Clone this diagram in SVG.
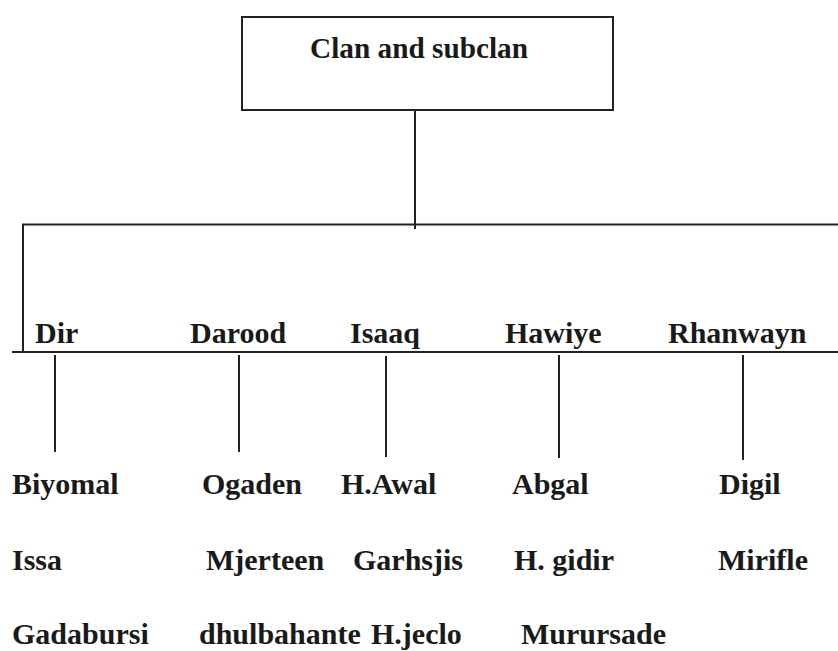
<svg xmlns="http://www.w3.org/2000/svg" width="838" height="651" viewBox="0 0 838 651">
<style>
.ln{stroke:#222;stroke-width:2;fill:none}
.t{font-family:'Liberation Serif','Times New Roman',serif;font-weight:bold;font-size:30px;fill:#1a1a1a}
</style>
<rect width="838" height="651" fill="#fff"/>
<g id="root">
<rect class="ln" x="242" y="17" width="371" height="93"/>
<text class="t" x="310" y="58" textLength="218" lengthAdjust="spacingAndGlyphs">Clan and subclan</text>
</g>
<g id="connectors">
<line class="ln" x1="415" y1="109" x2="415" y2="229"/>
<line class="ln" x1="22" y1="224.5" x2="838" y2="224.5"/>
<line class="ln" x1="23" y1="224" x2="23" y2="353"/>
<line class="ln" x1="12" y1="352" x2="838" y2="352"/>
<line class="ln" x1="55" y1="355" x2="55" y2="452"/>
<line class="ln" x1="239" y1="355" x2="239" y2="452"/>
<line class="ln" x1="386" y1="356" x2="386" y2="457"/>
<line class="ln" x1="559" y1="355" x2="559" y2="458"/>
<line class="ln" x1="743" y1="355" x2="743" y2="460"/>
</g>
<g id="dir"><text class="t" x="35" y="343">Dir</text>
<text class="t" x="12" y="494">Biyomal</text><text class="t" x="12" y="570">Issa</text><text class="t" x="12" y="644">Gadabursi</text></g>
<g id="darood"><text class="t" x="190" y="343">Darood</text>
<text class="t" x="202" y="494">Ogaden</text><text class="t" x="206" y="570">Mjerteen</text><text class="t" x="199" y="644">dhulbahante</text></g>
<g id="isaaq"><text class="t" x="350" y="343">Isaaq</text>
<text class="t" x="341" y="494">H.Awal</text><text class="t" x="353" y="570">Garhsjis</text><text class="t" x="371" y="644">H.jeclo</text></g>
<g id="hawiye"><text class="t" x="505" y="343">Hawiye</text>
<text class="t" x="512" y="494">Abgal</text><text class="t" x="514" y="570">H. gidir</text><text class="t" x="521" y="644">Murursade</text></g>
<g id="rhanwayn"><text class="t" x="668" y="343">Rhanwayn</text>
<text class="t" x="719" y="494">Digil</text><text class="t" x="718" y="570">Mirifle</text></g>
</svg>
